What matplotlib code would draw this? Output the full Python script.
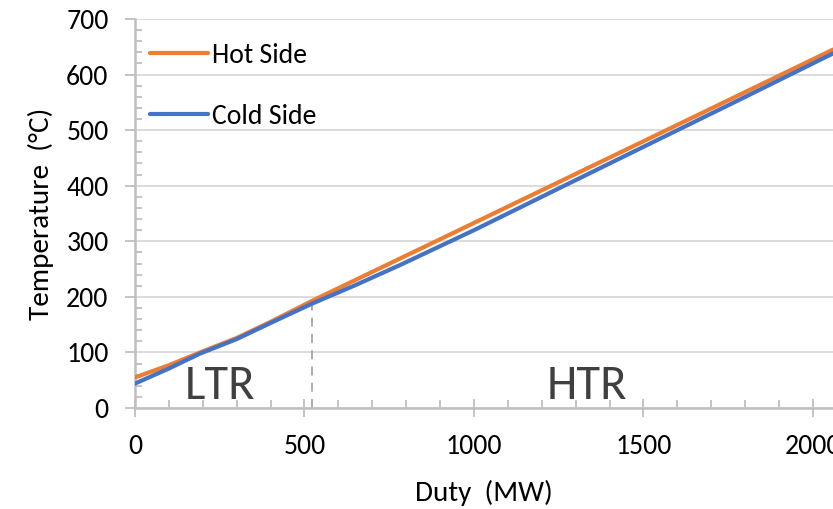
import matplotlib
matplotlib.use("Agg")
import matplotlib.pyplot as plt
from matplotlib.ticker import MultipleLocator

plt.rcParams['font.family'] = ['Carlito', 'Lato', 'DejaVu Sans']

# Data
duty_hot = [0, 100, 192, 300, 400, 523, 1000, 1500, 2059]
temp_hot = [55, 77, 100, 126, 155, 193, 333, 480, 645]
duty_cold = [0, 100, 192, 300, 400, 523, 650, 781, 1000, 1223, 1500, 1754, 2059]
temp_cold = [44, 71, 98, 124, 153, 188, 221, 257, 320, 387, 470, 546, 638]
split_duty = 523
split_temp = 195
region_labels = ["LTR", "HTR"]
region_x = [250, 1332]
region_y = [39, 40]

W, H = 833, 509
fig = plt.figure(figsize=(W/100, H/100), dpi=100)
ax = fig.add_axes([135/W, 1-408/H, 1-135/W, (408-19)/H])

grey = '#BFBFBF'
ax.plot(duty_hot, temp_hot, color='#ED7D31', lw=3, label='Hot Side', solid_capstyle='round', zorder=3)
ax.plot(duty_cold, temp_cold, color='#4472C4', lw=3, label='Cold Side', solid_capstyle='round', zorder=3)
ax.plot([split_duty, split_duty], [0, split_temp], color='#A6A6A6', lw=1.3, ls=(0, (5, 4)), zorder=2)

for t, x, y in zip(region_labels, region_x, region_y):
    ax.text(x, y, t, fontsize=35, color='#404040', ha='center', va='center')

ax.set_xlim(0, 2059)
ax.set_ylim(0, 700)
ax.xaxis.set_major_locator(MultipleLocator(500))
ax.xaxis.set_minor_locator(MultipleLocator(100))
ax.yaxis.set_major_locator(MultipleLocator(100))
ax.yaxis.set_minor_locator(MultipleLocator(20))
ax.grid(axis='y', which='major', color='#D9D9D9', lw=1.3, zorder=0)
ax.set_axisbelow(True)

for s in ['top', 'right']:
    ax.spines[s].set_visible(False)
for s in ['left', 'bottom']:
    ax.spines[s].set_color(grey)
    ax.spines[s].set_linewidth(1.8)

ax.tick_params(axis='x', which='major', direction='inout', length=13, width=1.3, color=grey,
               labelsize=20, pad=12)
ax.tick_params(axis='x', which='minor', direction='in', length=6, width=1.3, color=grey)
ax.tick_params(axis='y', which='major', direction='out', length=7, width=1.3, color=grey,
               labelsize=20, pad=12)
ax.tick_params(axis='y', which='minor', direction='in', length=5, width=1.3, color=grey)

ax.set_xlabel('Duty  (MW)', fontsize=21, labelpad=15)
ax.set_ylabel('Temperature  (°C)', fontsize=21, labelpad=9)

leg = ax.legend(loc='upper left', bbox_to_anchor=(150/W, 1-43/H), bbox_transform=fig.transFigure,
                frameon=False, fontsize=20, handlelength=2.1, handletextpad=0.15,
                labelspacing=1.3, borderpad=0, borderaxespad=0)

fig.savefig('out.png', dpi=100)
